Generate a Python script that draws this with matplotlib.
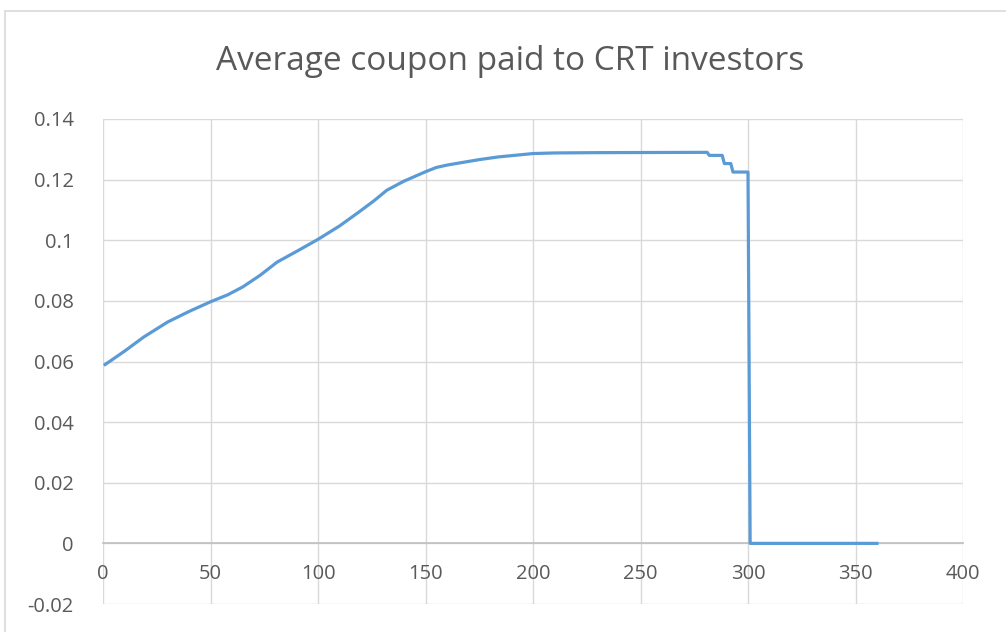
import matplotlib
matplotlib.use("Agg")
import matplotlib.pyplot as plt
from matplotlib.patches import Rectangle

# Data
months = [1, 10, 19, 30, 40, 50, 58, 65, 73, 81, 91, 100, 110, 119, 126, 132, 140, 150, 155, 160, 165,
          175, 184, 200, 210, 230, 281,
          282, 288, 289, 292, 293, 300, 301, 360]
coupon = [0.0590, 0.0634, 0.0681, 0.0730, 0.0765, 0.0797, 0.0820, 0.0846, 0.0884, 0.0928, 0.0967,
          0.1003, 0.1047, 0.1093, 0.1130, 0.1165, 0.1195, 0.1226, 0.1240, 0.1248, 0.1254,
          0.1266, 0.1275, 0.1286, 0.1288, 0.1289, 0.1290,
          0.1280, 0.1280, 0.1253, 0.1253, 0.1225, 0.1225, 0.0, 0.0]
x_ticks = [0, 50, 100, 150, 200, 250, 300, 350, 400]
y_ticks = [-0.02, 0, 0.02, 0.04, 0.06, 0.08, 0.1, 0.12, 0.14]
y_labels = ["-0.02", "0", "0.02", "0.04", "0.06", "0.08", "0.1", "0.12", "0.14"]
title = "Average coupon paid to CRT investors"

plt.rcParams['font.family'] = ['Open Sans', 'DejaVu Sans']
fig = plt.figure(figsize=(10.06, 6.32), dpi=100)
fig.patches.append(Rectangle((5/1006, -0.1), 1.2, 1 - 11/632 + 0.1, transform=fig.transFigure,
                             fill=False, edgecolor='#d9d9d9', linewidth=1.2))
ax = fig.add_axes([103/1006, 1 - 604/632, (963-103)/1006, (604-119)/632])

ax.plot(months, coupon, color='#5b9bd5', linewidth=2.3, solid_joinstyle='round', zorder=3)

ax.set_xlim(0, 400)
ax.set_ylim(-0.02, 0.14)
ax.set_xticks(x_ticks)
ax.set_xticklabels([str(v) for v in x_ticks])
ax.set_yticks(y_ticks)
ax.set_yticklabels(y_labels)
ax.grid(True, color='#d9d9d9', linewidth=1.0, zorder=0)
ax.set_axisbelow(True)
for s in ['top', 'right', 'left']:
    ax.spines[s].set_visible(False)
ax.spines['bottom'].set_position(('data', 0))
ax.spines['bottom'].set_color('#bfbfbf')
ax.spines['bottom'].set_linewidth(1.2)
ax.tick_params(axis='x', length=0, pad=15, labelsize=14.5, labelcolor='#595959')
ax.tick_params(axis='y', length=0, pad=21, labelsize=14.5, labelcolor='#595959')

fig.text(0.5075, 1 - 61/632, title, ha='center', va='center', fontsize=24, color='#595959')

fig.savefig("out.png", dpi=100)
